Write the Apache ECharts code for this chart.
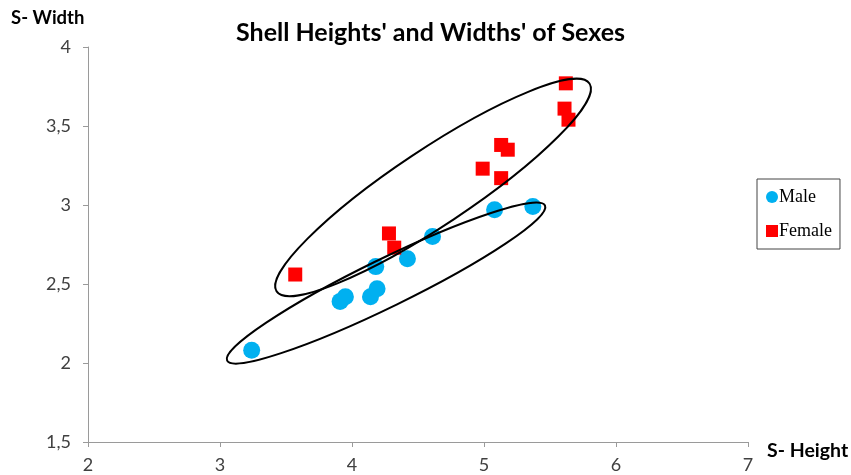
<!DOCTYPE html>
<html><head><meta charset="utf-8">
<script src="https://cdn.jsdelivr.net/npm/echarts@6/dist/echarts.min.js"></script>
<style>html,body{margin:0;padding:0;background:#fff}#c{width:851px;height:475px}</style>
</head><body><div id="c"></div>
<script>
// Data (S- Height, S- Width)
const maleHeight   = [3.24, 3.91, 3.95, 4.14, 4.19, 4.18, 4.42, 4.61, 5.08, 5.37];
const maleWidth    = [2.08, 2.39, 2.42, 2.42, 2.47, 2.61, 2.66, 2.80, 2.97, 2.99];
const femaleHeight = [3.57, 4.28, 4.32, 4.99, 5.13, 5.18, 5.13, 5.62, 5.61, 5.64];
const femaleWidth  = [2.56, 2.82, 2.73, 3.23, 3.38, 3.35, 3.17, 3.77, 3.61, 3.54];
const xTicks = [2, 3, 4, 5, 6, 7];
const yTicks = [1.5, 2, 2.5, 3, 3.5, 4];
// Hand-drawn grouping ellipses: [centerX, centerY, tipX, tipY] in data units
const ellipseCenterTip = [[4.614, 3.111, 5.799, 3.769], [4.258, 2.506, 5.462, 2.997]];
const ellipseMinorPx = [38, 24];

const chart = echarts.init(document.getElementById('c'));
const font = 'Lato, "Open Sans", sans-serif';
const fmt = v => String(v).replace('.', ',');
chart.setOption({
  animation: false,
  title: { text: "Shell Heights' and Widths' of Sexes", left: 231, top: 15,
    textStyle: { fontFamily: font, fontWeight: 'bold', fontSize: 25, color: '#000' } },
  grid: { left: 88, right: 103, top: 47, bottom: 33 },
  xAxis: { type: 'value', min: xTicks[0], max: xTicks[xTicks.length-1], interval: 1,
    axisLine: { lineStyle: { color: '#9a9a9a' } }, axisTick: { show: true, length: 5, lineStyle: { color: '#9a9a9a' } },
    axisLabel: { fontFamily: font, fontSize: 18, color: '#404040', margin: 14, formatter: fmt },
    splitLine: { show: false } },
  yAxis: { type: 'value', min: yTicks[0], max: yTicks[yTicks.length-1], interval: 0.5,
    axisLine: { show: true, lineStyle: { color: '#9a9a9a' } }, axisTick: { show: true, length: 5, lineStyle: { color: '#9a9a9a' } },
    axisLabel: { fontFamily: font, fontSize: 18, color: '#404040', margin: 17, formatter: fmt },
    splitLine: { show: false } },
  legend: { orient: 'vertical', left: 757, top: 179, padding: [9, 8, 9, 9], itemGap: 16,
    borderColor: '#444', borderWidth: 1, itemWidth: 12, itemHeight: 12,
    textStyle: { fontFamily: '"Liberation Serif", serif', fontSize: 18, color: '#000', padding: [0,0,0,-4] },
    data: [{ name: 'Male', icon: 'circle' }, { name: 'Female', icon: 'rect' }] },
  graphic: [
    { type: 'text', left: 11, top: 9, style: { text: 'S- Width', fontFamily: font, fontWeight: 'bold', fontSize: 18.5, fill: '#000' } },
    { type: 'text', left: 767, top: 441, style: { text: 'S- Height', fontFamily: font, fontWeight: 'bold', fontSize: 19.5, fill: '#000' } }
  ],
  series: [
    { name: 'Male', type: 'scatter', symbol: 'circle', symbolSize: 17, itemStyle: { color: '#00B0F0', opacity: 1 },
      data: maleHeight.map((x, i) => [x, maleWidth[i]]), z: 3 },
    { name: 'Female', type: 'scatter', symbol: 'rect', symbolSize: 14, itemStyle: { color: '#FF0000', opacity: 1 },
      data: femaleHeight.map((x, i) => [x, femaleWidth[i]]), z: 3 },
    { name: 'ellipses', type: 'custom', silent: true, z: 4,
      data: ellipseCenterTip.map((e, i) => e.concat([ellipseMinorPx[i]])),
      renderItem: function (params, api) {
        const c = api.coord([api.value(0), api.value(1)]);
        const t = api.coord([api.value(2), api.value(3)]);
        const dx = t[0] - c[0], dy = t[1] - c[1];
        const rx = Math.sqrt(dx*dx + dy*dy);
        return { type: 'ellipse', x: c[0], y: c[1], rotation: -Math.atan2(dy, dx),
          shape: { cx: 0, cy: 0, rx: rx, ry: api.value(4) },
          style: { fill: null, stroke: '#000', lineWidth: 2 } };
      } }
  ]
});
</script></body></html>
